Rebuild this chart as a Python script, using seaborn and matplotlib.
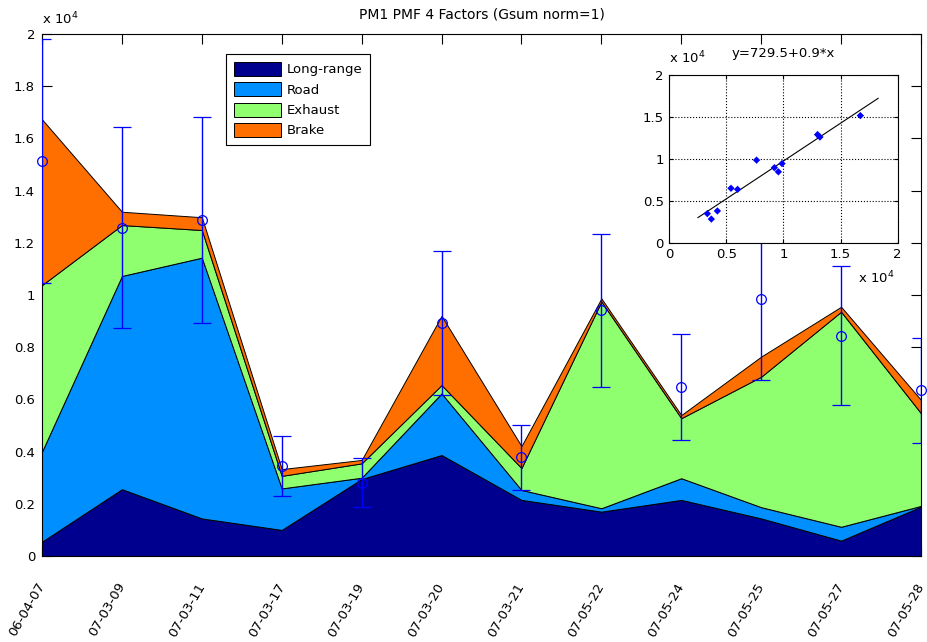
import numpy as np
import pandas as pd
import matplotlib
matplotlib.use("Agg")
import matplotlib.pyplot as plt
from matplotlib.ticker import FuncFormatter
import seaborn as sns

# Sampling days
dates = ["06-04-07", "07-03-09", "07-03-11", "07-03-17", "07-03-19", "07-03-20",
         "07-03-21", "07-05-22", "07-05-24", "07-05-25", "07-05-27", "07-05-28"]

# PMF factor contributions (stacked)
factor_names = ["Long-range", "Road", "Exhaust", "Brake"]
long_range = [550, 2560, 1440, 1000, 2950, 3870, 2150, 1700, 2150, 1440, 590, 1890]
road = [3450, 8170, 9990, 1590, 50, 2360, 380, 130, 830, 430, 530, 30]
exhaust = [6380, 1950, 1060, 480, 550, 320, 840, 7920, 2300, 5000, 8240, 3550]
brake = [6350, 510, 490, 260, 130, 2650, 840, 120, 120, 770, 190, 510]

# Measured PM1 with uncertainty
measured = [15130, 12580, 12870, 3460, 2810, 8930, 3780, 9420, 6480, 9830, 8440, 6350]
measured_err = [4680, 3860, 3960, 1150, 930, 2770, 1240, 2930, 2030, 3090, 2660, 2010]

# Linear fit of measured vs. modelled mass
fit_intercept = 729.5
fit_slope = 0.9
fit_x_range = [2500, 18300]

main_yticks = list(range(0, 20001, 2000))
inset_ticks = list(range(0, 20001, 5000))

factor_colors = ["#00008F", "#008FFF", "#8FFF6F", "#FF6F00"]

sns.set_theme(style="ticks")
plt.rcParams["font.family"] = ["DejaVu Sans"]
plt.rcParams["mathtext.default"] = "regular"
plt.rcParams["axes.edgecolor"] = "black"
plt.rcParams["axes.linewidth"] = 0.8
plt.rcParams["xtick.color"] = "black"
plt.rcParams["ytick.color"] = "black"
plt.rcParams["text.color"] = "black"

FS = 9.5
sci = FuncFormatter(lambda v, _: f"{v / 1e4:g}")

fig = plt.figure(figsize=(9.28, 6.42), dpi=100)
fig.patch.set_facecolor("white")
W, H = 928, 642
ax = fig.add_axes([42 / W, 1 - 556 / H, 879 / W, 522 / H])

x = np.arange(len(dates))
ax.stackplot(x, long_range, road, exhaust, brake, labels=factor_names,
             colors=factor_colors, edgecolor="black", linewidth=0.7)
eb = ax.errorbar(x, measured, yerr=measured_err, fmt="o", mfc="none", mec="blue",
                 ecolor="blue", ms=7, mew=0.9, elinewidth=1.0, capsize=6.5,
                 capthick=1.0, zorder=3)
eb[0].set_clip_on(False)

ax.set_xlim(0, len(dates) - 1)
ax.set_ylim(0, 20000)
ax.set_yticks(main_yticks)
ax.yaxis.set_major_formatter(sci)
ax.set_xticks(x)
ax.set_xticklabels(dates, rotation=60, ha="right", va="center",
                   rotation_mode="anchor")
ax.set_axisbelow(True)
ax.tick_params(direction="in", length=7, width=0.8, top=True, right=True,
               labelsize=FS)
ax.tick_params(axis="x", pad=20)
ax.tick_params(axis="y", pad=5)
for s in ax.spines.values():
    s.set_visible(True)
    s.set_color("black")

ax.set_title("PM1 PMF 4 Factors (Gsum norm=1)", fontsize=10, pad=11)
ax.text(0.0, 1.013, r"x 10$^{4}$", transform=ax.transAxes, ha="left",
        va="bottom", fontsize=FS)

leg = ax.legend(loc="upper left", bbox_to_anchor=((226 - 42) / 879, (556 - 54) / 522),
                borderaxespad=0, fancybox=False, edgecolor="black", framealpha=1,
                fontsize=FS, handlelength=3.6, handleheight=1.25,
                labelspacing=0.45, handletextpad=0.4, borderpad=0.6)
leg.get_frame().set_linewidth(0.8)

# Inset: measured vs. modelled total
modelled_total = (np.array(long_range) + np.array(road)
                  + np.array(exhaust) + np.array(brake))
axin = fig.add_axes([669.3 / W, 1 - 242.7 / H, 228.4 / W, 168 / H])
axin.set_facecolor("white")
scatter_df = pd.DataFrame({"modelled": modelled_total, "measured": measured})
sns.scatterplot(data=scatter_df, x="modelled", y="measured", marker="D", s=14,
                color="blue", edgecolor="none", ax=axin, legend=False, zorder=3)
fit_x = np.array(fit_x_range, dtype=float)
sns.lineplot(x=fit_x, y=fit_intercept + fit_slope * fit_x, color="black",
             linewidth=0.8, ax=axin, legend=False)
axin.set_xlim(0, 20000)
axin.set_ylim(0, 20000)
axin.set_xticks(inset_ticks)
axin.set_yticks(inset_ticks)
axin.xaxis.set_major_formatter(sci)
axin.yaxis.set_major_formatter(sci)
axin.set_xlabel("")
axin.set_ylabel("")
axin.grid(True, linestyle=":", color="black", linewidth=0.8)
axin.tick_params(direction="in", length=3, width=0.8, top=True, right=True,
                 labelsize=FS, pad=4)
for s in axin.spines.values():
    s.set_visible(True)
    s.set_color("black")
axin.set_title(f"y={fit_intercept:g}+{fit_slope:g}*x", fontsize=FS, pad=13)
axin.text(0.0, 1.05, r"x 10$^{4}$", transform=axin.transAxes, ha="left",
          va="bottom", fontsize=FS)
axin.text(0.985, -0.16, r"x 10$^{4}$", transform=axin.transAxes, ha="right",
          va="top", fontsize=FS)

fig.savefig("out.png", dpi=100, facecolor="white")
